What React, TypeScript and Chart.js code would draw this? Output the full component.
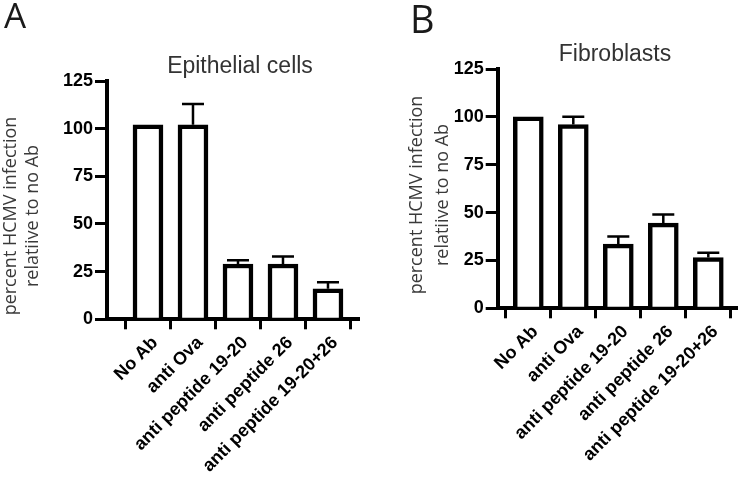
import React, { useEffect, useRef } from 'react';
import { Chart, registerables } from 'chart.js';

Chart.register(...registerables);

// ---- data ----
const categories = ['No Ab', 'anti Ova', 'anti peptide 19-20', 'anti peptide 26', 'anti peptide 19-20+26'];
const epithelialMeans = [102, 102, 29, 29, 16];
const epithelialErrors = [0, 11, 2, 4, 3.5];
const fibroblastMeans = [100, 96, 33.5, 44.5, 26.5];
const fibroblastErrors = [0, 4, 4, 4.5, 2.5];
const yMin = 0;
const yMax = 125;
const yStep = 25;
const yTitleLines = ['percent HCMV infection', 'relatiive to no Ab'];
const panelLetters = ['A', 'B'];
const panelTitles = ['Epithelial cells', 'Fibroblasts'];

const TICK_FONT = "'Liberation Sans', Arial, sans-serif";
const LABEL_FONT = "'Open Sans', 'Noto Sans', sans-serif";

type Panel = {
  width: number;
  yAxisWidth: number;
  xAxisHeight: number;
  padTop: number;
  padRight: number;
  xMin: number;
  xMax: number;
  letter: string;
  letterX: number;
  letterY: number;
  letterSize: number;
  title: string;
  titleX: number;
  titleY: number;
  yTitleX: number[];
  yTitleCenter: number;
  means: number[];
  errors: number[];
};

const panels: Panel[] = [
  {
    width: 370, yAxisWidth: 107, xAxisHeight: 158.7, padTop: 81, padRight: 12,
    xMin: -0.911, xMax: 4.667,
    letter: panelLetters[0], letterX: 4, letterY: 28, letterSize: 35,
    title: panelTitles[0], titleX: 240, titleY: 73,
    yTitleX: [16, 38], yTitleCenter: 216,
    means: epithelialMeans, errors: epithelialErrors,
  },
  {
    width: 368, yAxisWidth: 127.7, xAxisHeight: 169.7, padTop: 69, padRight: 0,
    xMin: -0.68, xMax: 4.66,
    letter: panelLetters[1], letterX: 40, letterY: 33, letterSize: 38,
    title: panelTitles[1], titleX: 245, titleY: 61,
    yTitleX: [52, 78], yTitleCenter: 195,
    means: fibroblastMeans, errors: fibroblastErrors,
  },
];

const errorBarPlugin = {
  id: 'errorBars',
  afterDatasetsDraw(chart: any, _args: any, opts: any) {
    const meta = chart.getDatasetMeta(0);
    const ys = chart.scales.y;
    const ctx = chart.ctx;
    ctx.save();
    ctx.strokeStyle = '#000';
    ctx.lineWidth = 2.5;
    ctx.lineCap = 'butt';
    meta.data.forEach((bar: any, i: number) => {
      const err = opts.errors[i];
      if (!err) return;
      const mean = opts.means[i];
      const x = bar.x;
      const yBase = ys.getPixelForValue(mean);
      const yTop = ys.getPixelForValue(mean + err);
      ctx.beginPath();
      ctx.moveTo(x, yBase);
      ctx.lineTo(x, yTop);
      ctx.moveTo(x - 11, yTop);
      ctx.lineTo(x + 11, yTop);
      ctx.stroke();
    });
    ctx.restore();
  },
};

const textPlugin = {
  id: 'panelTexts',
  afterDraw(chart: any, _args: any, opts: any) {
    const ctx = chart.ctx;
    ctx.save();
    // panel letter
    ctx.fillStyle = '#1a1a1a';
    ctx.font = `400 ${opts.letterSize}px ${LABEL_FONT}`;
    ctx.textAlign = 'left';
    ctx.textBaseline = 'alphabetic';
    ctx.fillText(opts.letter, opts.letterX, opts.letterY);
    // title
    ctx.fillStyle = '#333';
    ctx.font = `400 23px ${TICK_FONT}`;
    ctx.textAlign = 'center';
    ctx.fillText(opts.title, opts.titleX, opts.titleY);
    // y axis title
    ctx.fillStyle = '#3a3a3a';
    ctx.font = `400 18px ${LABEL_FONT}`;
    yTitleLines.forEach((line: string, i: number) => {
      ctx.save();
      ctx.translate(opts.yTitleX[i], opts.yTitleCenter);
      ctx.rotate(-Math.PI / 2);
      ctx.textAlign = 'center';
      ctx.textBaseline = 'alphabetic';
      ctx.fillText(line, 0, 0);
      ctx.restore();
    });
    ctx.restore();
  },
};

function PanelChart({ p, left }: { p: Panel; left: number }) {
  const ref = useRef<HTMLCanvasElement>(null);
  useEffect(() => {
    if (!ref.current) return;
    const chart = new Chart(ref.current, {
      type: 'bar',
      data: {
        datasets: [
          {
            data: p.means.map((v, i) => ({ x: i, y: v })),
            backgroundColor: '#ffffff',
            borderColor: '#000000',
            borderWidth: 4.5,
            borderSkipped: 'start',
            barThickness: 30,
          },
        ],
      },
      plugins: [errorBarPlugin, textPlugin],
      options: {
        animation: false,
        responsive: false,
        maintainAspectRatio: false,
        layout: { padding: { left: 0, top: p.padTop, right: p.padRight, bottom: 0 } },
        plugins: {
          legend: { display: false },
          tooltip: { enabled: false },
          title: { display: false },
          errorBars: { means: p.means, errors: p.errors },
          panelTexts: {
            letter: p.letter, letterX: p.letterX, letterY: p.letterY, letterSize: p.letterSize,
            title: p.title, titleX: p.titleX, titleY: p.titleY,
            yTitleX: p.yTitleX, yTitleCenter: p.yTitleCenter,
          },
        } as any,
        scales: {
          x: {
            type: 'linear',
            min: p.xMin,
            max: p.xMax,
            z: 1,
            offset: false,
            afterFit: (s: any) => { s.height = p.xAxisHeight; },
            grid: {
              drawOnChartArea: false,
              drawTicks: true,
              tickLength: 10,
              lineWidth: 3,
              color: '#000',
            },
            border: { display: true, width: 4, color: '#000' },
            ticks: {
              stepSize: 1,
              includeBounds: false,
              autoSkip: false,
              minRotation: 45,
              maxRotation: 45,
              padding: 3,
              labelOffset: 7,
              color: '#000',
              font: { family: TICK_FONT, size: 18, weight: 'bold' },
              callback: (v: any) => (Number.isInteger(v) && categories[v] !== undefined ? categories[v] : ''),
            },
          },
          y: {
            type: 'linear',
            min: yMin,
            max: yMax,
            afterFit: (s: any) => { s.width = p.yAxisWidth; },
            grid: {
              drawOnChartArea: false,
              drawTicks: true,
              tickLength: 12,
              lineWidth: 3,
              color: '#000',
            },
            border: { display: true, width: 4, color: '#000' },
            ticks: {
              stepSize: yStep,
              padding: 2,
              color: '#000',
              font: { family: TICK_FONT, size: 18, weight: 'bold' },
            },
          },
        },
      } as any,
    });
    return () => chart.destroy();
  }, [p]);
  return (
    <canvas
      ref={ref}
      width={p.width}
      height={478}
      style={{ position: 'absolute', left, top: 0, width: p.width, height: 478 }}
    />
  );
}

export default function App() {
  return (
    <div style={{ position: 'fixed', left: 0, top: 0, width: 738, height: 478, background: '#fff', overflow: 'hidden' }}>
      <PanelChart p={panels[0]} left={0} />
      <PanelChart p={panels[1]} left={370} />
    </div>
  );
}
